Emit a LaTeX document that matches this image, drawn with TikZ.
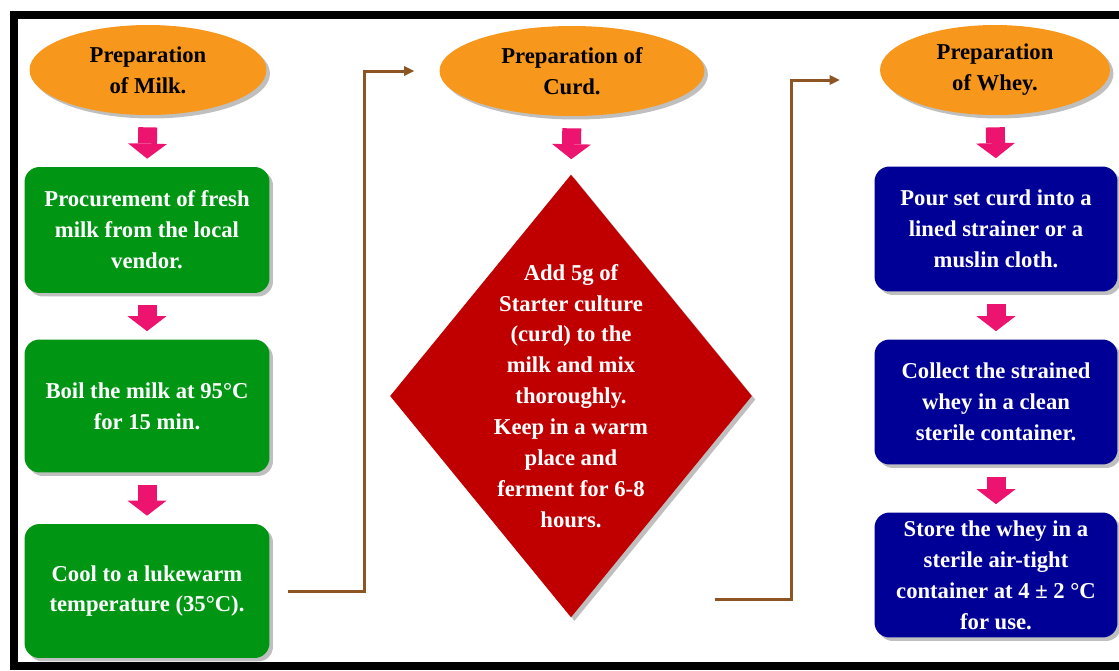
\documentclass[tikz,border=0pt]{standalone}
\usepackage{fontspec}
\setmainfont{Liberation Serif}
\usetikzlibrary{shapes.geometric,shadows,arrows.meta,calc}

\definecolor{ovalorange}{RGB}{247,152,29}
\definecolor{stepgreen}{RGB}{0,150,20}
\definecolor{stepblue}{RGB}{0,0,150}
\definecolor{curdred}{RGB}{192,0,0}
\definecolor{arrowpink}{RGB}{236,20,110}
\definecolor{linkbrown}{RGB}{140,85,35}

\tikzset{
  txt/.style={font=\fontsize{12.9}{17.6}\selectfont\bfseries, align=center},
  softshadow/.style={drop shadow={shadow xshift=0.07cm, shadow yshift=-0.07cm, fill=black!50, opacity=0.5}},
  oval/.style={ellipse, fill=ovalorange, txt, text=black, inner sep=0pt, minimum height=1.8cm, softshadow},
  stepbox/.style={rectangle, rounded corners=0.3cm, txt, text=white, inner sep=0pt, softshadow},
  greenbox/.style={stepbox, fill=stepgreen, minimum width=4.9cm},
  bluebox/.style={stepbox, fill=stepblue, minimum width=4.86cm, minimum height=2.5cm},
  pinkarrow/.style={draw=arrowpink, line width=0.38cm, -{Triangle[width=0.78cm,length=0.3cm,line width=0pt]}, shorten <=0.24cm, shorten >=0.16cm},
  link/.style={draw=linkbrown, line width=0.06cm, -{Triangle[width=0.2cm,length=0.2cm,line width=0pt]}}
}

\begin{document}
\begin{tikzpicture}[x=0.02cm,y=-0.02cm]

\useasboundingbox (0,0) rectangle (1119,670);
\clip (0,0) rectangle (1119,670);
\fill[white] (0,0) rectangle (1119,670);

% frame, open on the right
\draw[line width=0.16cm] (1130,15) -- (14,15) -- (14,666) -- (1130,666);

% milk column
\node[oval, minimum width=4.74cm] (milk) at (148,70) {Preparation\\of Milk.};
\node[greenbox, minimum height=2.52cm] (fresh) at (147,230) {Procurement of fresh\\milk from the local\\vendor.};
\node[greenbox, minimum height=2.66cm] (boil) at (147,406) {Boil the milk at 95°C\\for 15 min.};
\node[greenbox, minimum height=2.68cm] (cool) at (147,591) {Cool to a lukewarm\\temperature (35°C).};

% curd column
\node[oval, minimum width=5.3cm] (curd) at (572,71) {Preparation of\\Curd.};
\node[diamond, fill=curdred, minimum width=7.24cm, minimum height=8.86cm, inner sep=0pt, softshadow] (ferment) at (571,396) {};
\node[txt, text=white] (fermenttext) at (ferment.center) {Add 5g of\\Starter culture\\(curd) to the\\milk and mix\\thoroughly.\\Keep in a warm\\place and\\ferment for 6-8\\hours.};

% whey column
\node[oval, minimum width=4.6cm] (whey) at (995,70) {Preparation\\of Whey.};
\node[bluebox] (pour) at (996,229) {Pour set curd into a\\lined strainer or a\\muslin cloth.};
\node[bluebox] (collect) at (996,402) {Collect the strained\\whey in a clean\\sterile container.};
\node[bluebox] (store) at (996,575) {Store the whey in a\\sterile air-tight\\container at 4 ± 2 °C\\for use.};

\foreach \a/\b in {milk/fresh,fresh/boil,boil/cool,whey/pour,pour/collect,collect/store}
  \draw[pinkarrow] (\a.south) -- (\b.north);
\draw[pinkarrow, shorten >=0.3cm] (curd.south) -- (ferment.north);

\draw[link] ([xshift=0.36cm]cool.east) -- ++(1.54cm,0) |- ([xshift=-0.5cm]curd.west);
\draw[link] ([xshift=2.88cm,yshift=0.36cm]ferment.south) -- ++(1.54cm,0) |- ([xshift=-0.8cm,yshift=-0.2cm]whey.west);

\end{tikzpicture}
\end{document}
